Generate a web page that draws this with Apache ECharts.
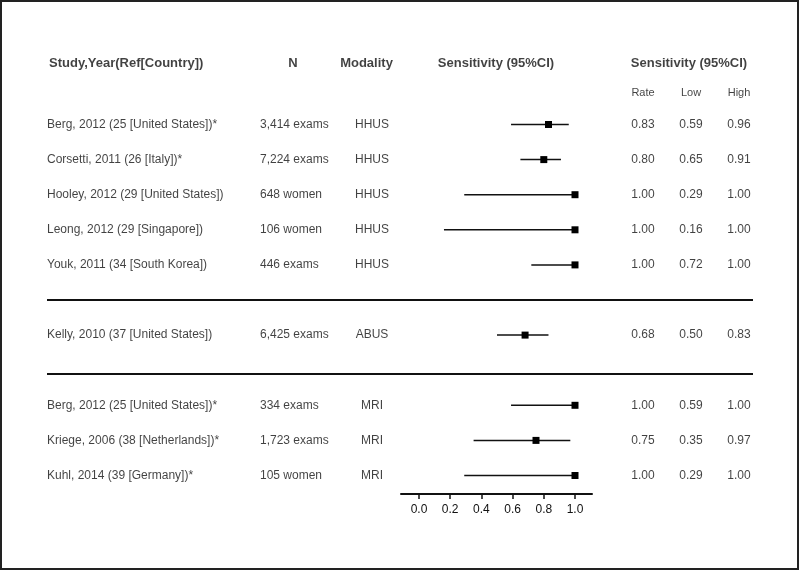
<!DOCTYPE html>
<html><head><meta charset="utf-8">
<script src="https://cdn.jsdelivr.net/npm/echarts@6/dist/echarts.min.js"></script>
<style>html,body{margin:0;padding:0;background:#fff}#c{width:800px;height:571px}</style>
</head><body><div id="c"></div>
<script>
// ---- data ----
const studies = [
  "Berg, 2012 (25 [United States])*",
  "Corsetti, 2011 (26 [Italy])*",
  "Hooley, 2012 (29 [United States])",
  "Leong, 2012 (29 [Singapore])",
  "Youk, 2011 (34 [South Korea])",
  "Kelly, 2010 (37 [United States])",
  "Berg, 2012 (25 [United States])*",
  "Kriege, 2006 (38 [Netherlands])*",
  "Kuhl, 2014 (39 [Germany])*"
];
const sampleSizes = ["3,414 exams","7,224 exams","648 women","106 women","446 exams","6,425 exams","334 exams","1,723 exams","105 women"];
const modalities = ["HHUS","HHUS","HHUS","HHUS","HHUS","ABUS","MRI","MRI","MRI"];
const rates = [0.83, 0.80, 1.00, 1.00, 1.00, 0.68, 1.00, 0.75, 1.00];
const lows  = [0.59, 0.65, 0.29, 0.16, 0.72, 0.50, 0.59, 0.35, 0.29];
const highs = [0.96, 0.91, 1.00, 1.00, 1.00, 0.83, 1.00, 0.97, 1.00];
const rowSlots = [0, 1, 2, 3, 4, 6, 8, 9, 10];
const headers = ["Study,Year(Ref[Country])", "N", "Modality", "Sensitivity (95%CI)", "Sensitivity (95%CI)"];
const subHeaders = ["Rate", "Low", "High"];
const axisTicks = [0, 0.2, 0.4, 0.6, 0.8, 1.0];

// ---- layout ----
const L = {
  W: 800, H: 571, rowPx0: 124.5, rowStep: 35.1,
  plotLeft: 401, plotRight: 592, plotTop: 90, axisY: 494, zeroPx: 419, onePx: 575,
  headerY: 63, subHeaderY: 93,
  colStudy: 47, colN: 260, colMod: 372, colRate: 643, colLow: 691, colHigh: 739,
  hdrStudy: 49, hdrN: 293, hdrMod: 366.5, hdrPlot: 496, hdrCI: 689,
  sepLeft: 47, sepRight: 753, sepRows: [300, 374]
};
const pxToRow = p => (p - L.rowPx0) / L.rowStep;
const unit = L.onePx - L.zeroPx;
const FONT = "'Liberation Sans', Arial, sans-serif";
const INK = '#111';

function textSeries(items, align, size, weight) {
  return {
    type: 'scatter', xAxisIndex: 1, yAxisIndex: 1, silent: true,
    symbolSize: 0.01, itemStyle: { color: 'rgba(0,0,0,0)' },
    data: items.map(t => ({ value: [t[0], t[1]], name: t[2] })),
    label: {
      show: true, position: 'inside', align: align, verticalAlign: 'middle',
      formatter: '{b}', fontSize: size, fontWeight: weight || 'normal',
      fontFamily: FONT, color: INK
    },
    emphasis: { disabled: true }, animation: false
  };
}

const hY = pxToRow(L.headerY), sY = pxToRow(L.subHeaderY);
const headerItems = [
  [L.hdrStudy, hY, headers[0]]
];
const headerCenter = [
  [L.hdrN, hY, headers[1]], [L.hdrMod, hY, headers[2]],
  [L.hdrPlot, hY, headers[3]], [L.hdrCI, hY, headers[4]]
];
const subItems = [[L.colRate, sY, subHeaders[0]], [L.colLow, sY, subHeaders[1]], [L.colHigh, sY, subHeaders[2]]];
const leftItems = [], centerItems = [];
studies.forEach((s, i) => {
  const y = rowSlots[i];
  leftItems.push([L.colStudy, y, s]);
  leftItems.push([L.colN, y, sampleSizes[i]]);
  centerItems.push([L.colMod, y, modalities[i]]);
  centerItems.push([L.colRate, y, rates[i].toFixed(2)]);
  centerItems.push([L.colLow, y, lows[i].toFixed(2)]);
  centerItems.push([L.colHigh, y, highs[i].toFixed(2)]);
});

const chart = echarts.init(document.getElementById('c'), null, { renderer: 'canvas' });
chart.setOption({
  animation: false,
  backgroundColor: '#fff',
  grid: [
    { left: L.plotLeft, width: L.plotRight - L.plotLeft, top: L.plotTop, height: L.axisY - L.plotTop },
    { left: 0, top: 0, width: L.W, height: L.H }
  ],
  xAxis: [
    {
      type: 'value', gridIndex: 0, position: 'bottom',
      min: (L.plotLeft - L.zeroPx) / unit, max: (L.plotRight - L.zeroPx) / unit,
      splitLine: { show: false },
      axisLine: { show: true, onZero: false, lineStyle: { color: INK, width: 2 } },
      axisTick: { show: true, inside: false, customValues: axisTicks, length: 5, lineStyle: { color: INK, width: 1.5 } },
      axisLabel: { customValues: axisTicks, formatter: v => v.toFixed(1), fontSize: 12, fontFamily: FONT, color: INK, margin: 10 }
    },
    { type: 'value', gridIndex: 1, min: 0, max: L.W, show: false }
  ],
  yAxis: [
    { type: 'value', gridIndex: 0, inverse: true, min: pxToRow(L.plotTop), max: pxToRow(L.axisY), show: false },
    { type: 'value', gridIndex: 1, inverse: true, min: pxToRow(0), max: pxToRow(L.H), show: false }
  ],
  graphic: [
    { type: 'rect', shape: { x: 1, y: 1, width: 797, height: 568 }, style: { fill: 'none', stroke: '#222', lineWidth: 2 }, silent: true },
    ...L.sepRows.map(y => ({ type: 'line', shape: { x1: L.sepLeft, y1: y, x2: L.sepRight, y2: y }, style: { stroke: INK, lineWidth: 2 }, silent: true }))
  ],
  series: [
    {
      type: 'custom', xAxisIndex: 0, yAxisIndex: 0, silent: true,
      data: rates.map((r, i) => [rowSlots[i], r, lows[i], highs[i]]),
      encode: { x: [1, 2, 3], y: 0 },
      renderItem: (params, api) => {
        const y = api.value(0);
        const lo = api.coord([api.value(2), y]);
        const hi = api.coord([api.value(3), y]);
        const c = api.coord([api.value(1), y]);
        const s = 7;
        return {
          type: 'group', children: [
            { type: 'line', shape: { x1: lo[0], y1: lo[1], x2: hi[0], y2: hi[1] }, style: { stroke: INK, lineWidth: 1.5 } },
            { type: 'rect', shape: { x: c[0] - s / 2, y: c[1] - s / 2, width: s, height: s }, style: { fill: '#000' } }
          ]
        };
      }
    },
    textSeries(headerItems, 'left', 13, 'bold'),
    textSeries(headerCenter, 'center', 13, 'bold'),
    textSeries(subItems, 'center', 11),
    textSeries(leftItems, 'left', 12),
    textSeries(centerItems, 'center', 12)
  ]
});
</script>
</body></html>
